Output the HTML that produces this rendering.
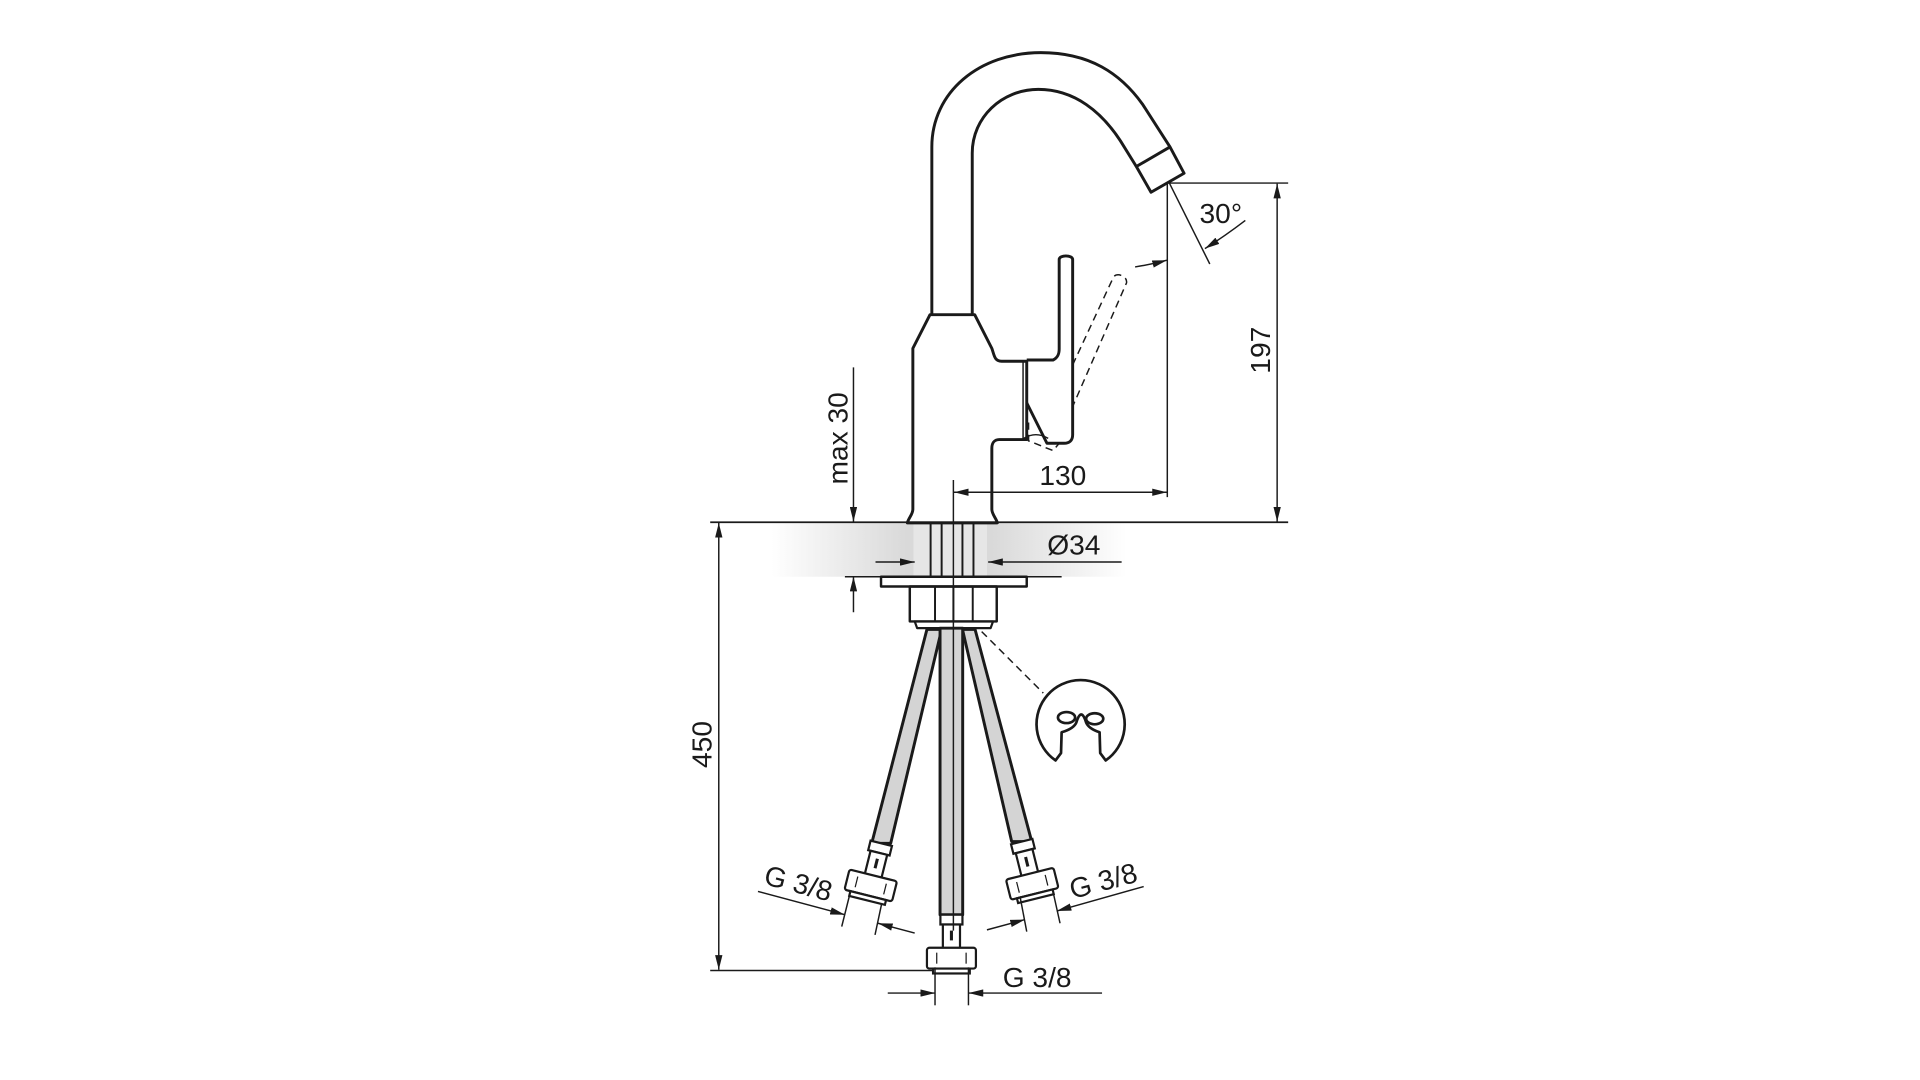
<!DOCTYPE html>
<html><head><meta charset="utf-8"><style>html,body{margin:0;padding:0;background:#fff}svg{display:block}</style></head>
<body>
<svg width="1920" height="1080" viewBox="0 0 1568 882" xmlns="http://www.w3.org/2000/svg">
<defs>
<marker id="a" viewBox="0 0 12 6" refX="12" refY="3" markerWidth="12" markerHeight="6" markerUnits="userSpaceOnUse" orient="auto-start-reverse"><path d="M0,0 L12,3 L0,6 z" fill="#1a1a1a"/></marker>
<linearGradient id="g" x1="0" x2="1" y1="0" y2="0">
<stop offset="0" stop-color="#fff"/><stop offset="0.38" stop-color="#d9d9d9"/><stop offset="0.62" stop-color="#d9d9d9"/><stop offset="1" stop-color="#fff"/></linearGradient>
</defs>
<rect width="1568" height="882" fill="#fff"/>
<rect x="630" y="427" width="290" height="44" fill="url(#g)"/>
<rect x="746" y="427" width="60" height="44" fill="#e6e6e6"/>

<g fill="none" stroke="#1a1a1a" stroke-width="2.4" stroke-linejoin="round">
<path d="M761,256 L761,120 C761,75 800,43 850,43 C890,43 915,60 933,85 L955.5,120"/>
<path d="M794,256 L794,125 C794,96 818,73 848,73 C878,73 900,92 915,115 L928,136"/>
<path d="M928,136 L955.5,120 L967,141.5 L940,157 Z"/>
<path d="M759.5,257 L796,257 L810,284.5 C812,290 812,295 818,295 L838.5,295 L838.5,359 L816,359 C812,359 810,362 810,366 L810,416 C810,420 814,424 814.5,427 L741,427 C742,423 745.5,420 745.5,416 L745.5,284.5 Z"/>
<path d="M838.5,294 L860,294 C864,292 865,289 865,285 L865,212 C865,208 876,208 876,212 L876,355 C876,360 873,362 869,362 L855,362 L838.5,329"/>
<line x1="835.5" y1="294" x2="835.5" y2="359" stroke-width="1.2"/>
<line x1="580" y1="426.5" x2="1052" y2="426.5" stroke-width="1.4"/>
<g stroke-width="1.6"><line x1="760" y1="427" x2="760" y2="471"/><line x1="769" y1="427" x2="769" y2="471"/><line x1="786" y1="427" x2="786" y2="471"/><line x1="795" y1="427" x2="795" y2="471"/></g>
<rect x="719.5" y="471" width="119" height="8" stroke-width="2"/>
<rect x="743" y="479" width="71" height="28.5" stroke-width="2"/>
<g stroke-width="1.6"><line x1="763.6" y1="479" x2="763.6" y2="507"/><line x1="778.6" y1="479" x2="778.6" y2="507"/><line x1="794.4" y1="479" x2="794.4" y2="507"/></g>
<path d="M747,507.5 L811,507.5 L809,513 L749,513 Z" stroke-width="1.8"/>
<path d="M757,514 L769,514 L727.4,688.7 L711.9,688.7 Z" fill="#d4d4d4"/>
<path d="M786,514 L796.3,514 L842.6,687.3 L826.2,687.3 Z" fill="#d4d4d4"/>
<rect x="767.7" y="513" width="18.5" height="234" fill="#d4d4d4"/>
</g>

<g fill="#fff" stroke="#1a1a1a" stroke-width="1.8">
<g transform="translate(777,747)">
<rect x="-9" y="0" width="18" height="8"/><rect x="-7" y="8" width="14" height="20"/><line x1="0" y1="13" x2="0" y2="21" stroke-width="2.5"/>
<rect x="-20" y="27" width="40" height="17" rx="2"/><line x1="-12" y1="31" x2="-12" y2="40" stroke-width="1"/><line x1="12" y1="31" x2="12" y2="40" stroke-width="1"/>
<rect x="-15" y="44" width="30" height="4"/></g>
<g transform="translate(719.7,688.7) rotate(14)">
<rect x="-9" y="0" width="18" height="8"/><rect x="-7" y="8" width="14" height="20"/><line x1="0" y1="13" x2="0" y2="21" stroke-width="2.5"/>
<rect x="-20" y="27" width="40" height="17" rx="2"/><line x1="-12" y1="31" x2="-12" y2="40" stroke-width="1"/><line x1="12" y1="31" x2="12" y2="40" stroke-width="1"/>
<rect x="-15" y="44" width="30" height="4"/></g>
<g transform="translate(834.4,687.3) rotate(-14)">
<rect x="-9" y="0" width="18" height="8"/><rect x="-7" y="8" width="14" height="20"/><line x1="0" y1="13" x2="0" y2="21" stroke-width="2.5"/>
<rect x="-20" y="27" width="40" height="17" rx="2"/><line x1="-12" y1="31" x2="-12" y2="40" stroke-width="1"/><line x1="12" y1="31" x2="12" y2="40" stroke-width="1"/>
<rect x="-15" y="44" width="30" height="4"/></g>
</g>

<g fill="none" stroke="#1a1a1a" stroke-width="1.2" stroke-dasharray="6,4">
<path d="M876,298 L909,227 C911,222 921,225 920,231 L876,332"/>
<path d="M840,345 L840,360 L860,368 L865,362"/>
<path d="M801.7,515.8 L852,566"/>
</g>
<path d="M836,358 Q846,352 856,358" fill="none" stroke="#1a1a1a" stroke-width="1.2"/>

<g fill="none" stroke="#1a1a1a" stroke-width="2.2" stroke-linejoin="round">
<path d="M866.5,615 L862,621 A36,36 0 1 1 903,621 L898.5,615 L898,598 Q889,595 887,590 Q883,577 879,590 Q877,595 867,598 Z"/>
<ellipse cx="871" cy="586" rx="7" ry="4.5"/><ellipse cx="894" cy="587" rx="7" ry="4.5"/>
</g>

<g fill="none" stroke="#1a1a1a" stroke-width="1.2">
<line x1="778.6" y1="392" x2="778.6" y2="760"/>
<line x1="953.3" y1="150" x2="953.3" y2="406"/>
<line x1="955" y1="149.5" x2="1052" y2="149.5"/>
<line x1="955" y1="149.5" x2="988" y2="215.6"/>
<line x1="690" y1="471" x2="867" y2="471"/>
<line x1="580" y1="792.6" x2="762" y2="792.6"/>
<line x1="763.6" y1="790" x2="763.6" y2="821"/><line x1="790.9" y1="790" x2="790.9" y2="821"/>
<line x1="687.4" y1="756.7" x2="694.2" y2="729.5"/><line x1="714.6" y1="763.5" x2="720.1" y2="737.7"/>
<line x1="838.5" y1="760.8" x2="833" y2="732"/><line x1="865.7" y1="754" x2="860.2" y2="729.3"/>
<path d="M779,402 L953,402" marker-start="url(#a)" marker-end="url(#a)"/>
<path d="M1043,150 L1043,426" marker-start="url(#a)" marker-end="url(#a)"/>
<path d="M587,427 L587,792" marker-start="url(#a)" marker-end="url(#a)"/>
<path d="M697,300 L697,426" marker-end="url(#a)"/>
<path d="M697,500 L697,471" marker-end="url(#a)"/>
<path d="M715,459 L747,459" marker-end="url(#a)"/>
<path d="M916,459 L807,459" marker-end="url(#a)"/>
<path d="M725,811 L763.6,811" marker-end="url(#a)"/>
<path d="M900,811 L791,811" marker-end="url(#a)"/>
<path d="M619,728 L690,747" marker-end="url(#a)"/>
<path d="M747,762 L717,754" marker-end="url(#a)"/>
<path d="M806,759.4 L837,751" marker-end="url(#a)"/>
<path d="M934,724 L863,744" marker-end="url(#a)"/>
<path d="M927,218 Q940,216 953,212.5" marker-end="url(#a)"/>
<path d="M1017,180 Q1000,193 984,203" marker-end="url(#a)"/>
</g>

<g font-family="Liberation Sans, sans-serif" font-size="23" fill="#1a1a1a" text-anchor="middle">
<text x="868" y="396">130</text>
<text x="997" y="182">30°</text>
<text x="0" y="0" transform="translate(1037,286) rotate(-90)">197</text>
<text x="0" y="0" transform="translate(692,358) rotate(-90)">max 30</text>
<text x="0" y="0" transform="translate(581,608) rotate(-90)">450</text>
<text x="877" y="453">Ø34</text>
<text x="847" y="806">G 3/8</text>
<text x="0" y="0" transform="translate(650,729) rotate(15)">G 3/8</text>
<text x="0" y="0" transform="translate(903,727) rotate(-15)">G 3/8</text>
</g>
</svg>
</body></html>
